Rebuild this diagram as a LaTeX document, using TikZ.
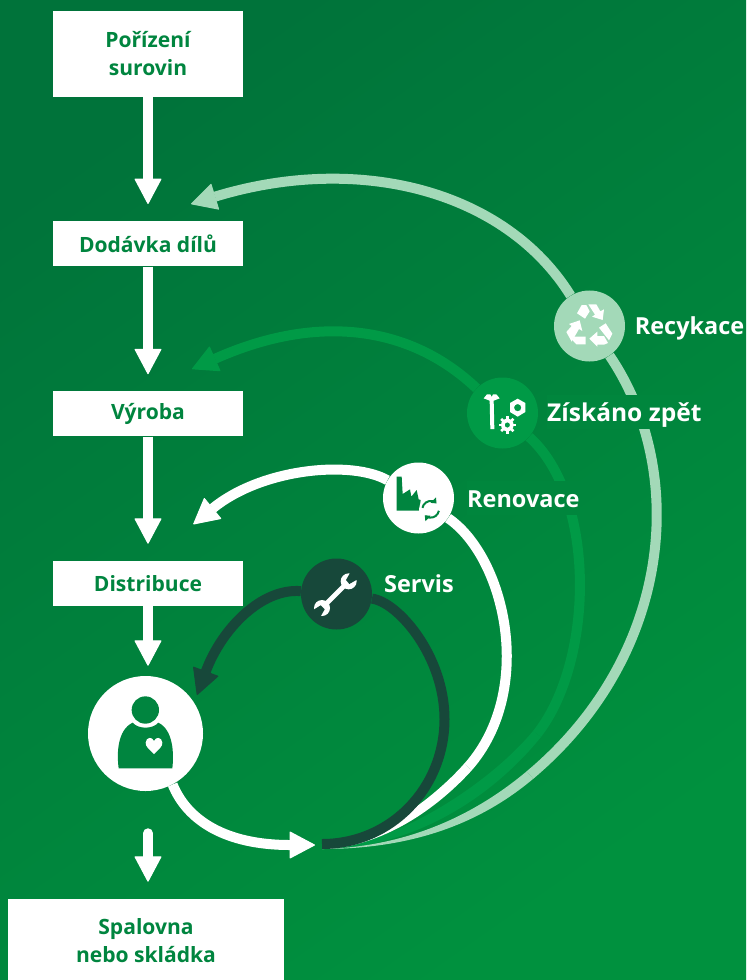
\documentclass[tikz,border=0pt]{standalone}
\usepackage{fontspec}
\setmainfont{Open Sans}
\usetikzlibrary{arrows.meta}
\usetikzlibrary{positioning}
\usetikzlibrary{backgrounds}
\definecolor{bgdark}{HTML}{00733A}
\definecolor{bglight}{HTML}{00913E}
\definecolor{bgmid}{HTML}{00863D}
\definecolor{boxtext}{HTML}{00853F}
\definecolor{midgreen}{HTML}{009A46}
\definecolor{palegreen}{HTML}{A3D9B8}
\definecolor{darkgreen}{HTML}{17483A}

\begin{document}
\begin{tikzpicture}[
    x=.75pt,
    y=-.75pt,
    >={Triangle[length=19.5pt,width=20.5pt,round,line width=.8pt]},
    stagebox/.style={
      fill=white,
      text=boxtext,
      inner sep=0pt,
      align=center,
      font=\fontsize{15.8}{21}\selectfont\bfseries,
      minimum width=142.5pt
    },
    flow/.style={white,line width=7.5pt,->},
    hub/.style={circle,inner sep=0pt,minimum size=53.25pt},
    hublabel/.style={
      text=white,
      inner sep=0pt,
      font=\fontsize{17.6}{20}\selectfont\bfseries,
      text height=13pt,
      text depth=4pt
    },
    knockout/.style={fill=bgmid,text height=20pt,text depth=5.5pt},
    loopline/.style={line width=7.5pt},
    iconpart/.style={x=.25pt,y=-.25pt}
    ]
    \useasboundingbox (0,0) rectangle (746,980);

    \node[stagebox,minimum height=64.5pt] (raw) at (148,54) {Pořízení\\surovin};
    \node[stagebox,minimum height=33.75pt] (parts) [below=92.8pt of raw] {Dodávka dílů};
    \node[stagebox,minimum height=33.75pt] (make) [below=93.5pt of parts] {Výroba};
    \node[stagebox,minimum height=33.75pt] (distr) [below=93pt of make] {Distribuce};
    \node[stagebox,minimum height=63pt,minimum width=207pt] (waste) at (146,941) {Spalovna\\nebo skládka};
    \node[hub,fill=white,minimum size=86.25pt] (person) at (145.5,733.5) {};

    \node[hub,fill=palegreen] (recy) at (589.5,326) {};
    \node[hub,fill=midgreen] (reco) at (502.5,413) {};
    \node[hub,fill=white] (reno) at (418.5,498) {};
    \node[hub,fill=darkgreen] (serv) at (336.5,594) {};

    \node[hublabel] (recylabel) [right=7pt of recy,yshift=-1.5pt] {Recykace};
    \node[hublabel,knockout,font=\fontsize{18.4}{20}\selectfont\bfseries] (recolabel) [right=6.5pt of reco,yshift=1.1pt] {Získáno zpět};
    \node[hublabel,knockout] (renolabel) [right=9.5pt of reno] {Renovace};
    \node[hublabel] (servlabel) [right=8.7pt of serv,yshift=6pt] {Servis};

    \coordinate (tail) at (322,849);
    \coordinate (servtail) at (322,844);
    \coordinate (servside) at (444.5,719);
    \coordinate (recystart) at (530,775);
    \coordinate (recoout) at (533.2,778.8);
    \coordinate (recoin) at (526.8,771.2);
    \coordinate (recotip) at (191,204);
    \coordinate (midstart) at (537,734);
    \coordinate (midout) at (540.9,737.1);
    \coordinate (midin) at (533.1,730.9);
    \coordinate (midtip) at (192,369);
    \coordinate (renostart) at (468,767);
    \coordinate (renoout) at (471.8,770.3);
    \coordinate (renoin) at (464.2,763.7);
    \coordinate (renotip) at (193.3,524.3);
    \coordinate (servtip) at (197,695);
    \coordinate (backtip) at (315,845);

    \begin{scope}[on background layer]
      \shade[top color=bgdark,bottom color=bglight,shading angle=35] (0,0) rectangle (746,980);

      \fill[midgreen] (tail) .. controls (410,849) and (490,800) .. (midout) -- (midin)
        .. controls (488.7,784.4) and (395,845) .. (tail) -- cycle;
      \draw[loopline,midgreen] (midstart) .. controls (595,660) and (596,497) .. (reco);
      \draw[loopline,midgreen,->] (reco) .. controls (412,327) and (320,312) .. (midtip);

      \fill[palegreen] (tail) .. controls (412,849) and (479.6,823.8) .. (recoout) -- (recoin)
        .. controls (477,813) and (410,847) .. (tail) -- cycle;
      \draw[loopline,palegreen] (recystart) .. controls (671.7,656) and (689,473) .. (recy);
      \draw[loopline,palegreen,->] (recy) .. controls (505,190) and (358,153) .. (recotip);

      \fill[white] (tail) .. controls (375,848) and (430,816) .. (renoout) -- (renoin)
        .. controls (431,801) and (375,841) .. (tail) -- cycle;
      \draw[loopline,white] (renostart) .. controls (536,690) and (505,557) .. (reno);
      \draw[loopline,white,->] (reno) .. controls (352,460) and (262,468) .. (renotip);

      \draw[loopline,darkgreen] (servtail) .. controls (391,844) and (444.5,788) .. (servside)
        .. controls (444.5,656) and (398,602) .. (serv);
      \draw[loopline,darkgreen,->] (serv) .. controls (262,588) and (222,628) .. (servtip);
    \end{scope}

    \foreach \a/\b in {raw/parts,parts/make,make/distr}{
      \draw[flow,shorten >=12.75pt] (\a) -- (\b);
    }
    \draw[flow,shorten >=7.5pt] (distr) -- (distr |- person.north);
    \draw[flow,line cap=round,shorten <=31.5pt,shorten >=12.75pt] (distr |- person.south) -- (distr |- waste.north);
    \draw[flow] (person.-62) .. controls (187,820) and (225,845) .. (backtip);

    \begin{scope}[shift={(60,640)},iconpart]
      \fill[boxtext] (256,210) circle[radius=41];
      \fill[boxtext] (176,385) .. controls (170,340) and (172,270) .. (218,248)
        .. controls (235,268) and (278,268) .. (295,248)
        .. controls (340,270) and (342,340) .. (337,385) -- cycle;
      \fill[white] (282,342) .. controls (268,328) and (256,320) .. (257,308)
        .. controls (258,292) and (276,288) .. (282,303)
        .. controls (288,288) and (306,292) .. (307,308)
        .. controls (308,320) and (296,328) .. (282,342) -- cycle;
    \end{scope}

    \begin{scope}[shift={(559,296)},iconpart]
      \fill[white] (54,52) -- (68,27) -- (82,27) -- (92,46) -- (78,68) -- cycle;
      \fill[white] (88,25) -- (112,25) -- (124,46) -- (135,40) -- (131,72) -- (99,62) -- (108,56) -- cycle;
      \fill[white] (22,108) -- (38,90) -- (30,84) -- (62,73) -- (70,105) -- (60,99) -- (38,137) -- cycle;
      \fill[white] (46,122) -- (80,122) -- (80,145) -- (52,145) -- (40,132) -- cycle;
      \fill[white] (91,128) -- (115,107) -- (115,120) -- (135,120) -- (147,141) -- (135,146) -- (115,146) -- (115,152) -- cycle;
      \fill[white] (120,95) -- (140,82) -- (160,113) -- (150,133) -- cycle;
    \end{scope}

    \begin{scope}[shift={(475,385)},iconpart]
      \fill[white] (26,40) -- (36,28) -- (46,28) -- (50,36) -- (54,28) -- (64,28) -- (74,40)
        -- (56,47) -- (58,132) -- (46,132) -- (44,47) -- cycle;
      \fill[white,even odd rule] (128,41) -- (151,54) -- (151,81) -- (128,95) -- (105,81) -- (105,54) -- cycle
        (128,68) circle[radius=11];
      \foreach \a in {0,45,...,315}{
        \draw[white,line width=2pt] ([shift={(\a:12)}]97,120) -- ([shift={(\a:26)}]97,120);
      }
      \fill[white,even odd rule] (97,120) circle[radius=19] (97,120) circle[radius=8];
    \end{scope}

    \begin{scope}[shift={(390,470)},iconpart]
      \fill[boxtext] (20,20) -- (35,20) -- (38,72) -- (60,58) -- (64,80) -- (80,60) -- (86,88)
        -- (92,90) -- (88,122) -- (20,122) -- cycle;
      \fill[white] (122,118) circle[radius=35];
      \draw[boxtext,line width=1.5pt,-{Triangle[length=3.5pt,width=5.5pt]}]
        ([shift={(-170:25)}]122,118) arc[start angle=-170,end angle=-45,radius=25];
      \draw[boxtext,line width=1.5pt,-{Triangle[length=3.5pt,width=5.5pt]}]
        ([shift={(10:25)}]122,118) arc[start angle=10,end angle=135,radius=25];
    \end{scope}

    \begin{scope}[shift={(308,566)},iconpart]
      \draw[white,line width=3.5pt] (122,46) -- (42,126);
      \fill[white] (122,46) circle[radius=24] (42,126) circle[radius=24];
      \fill[darkgreen] (114,42) -- (124,54) -- (152,38) -- (130,14) -- cycle;
      \fill[darkgreen] (50,130) -- (38,118) -- (12,134) -- (34,158) -- cycle;
    \end{scope}
  \end{tikzpicture}
\end{document}
